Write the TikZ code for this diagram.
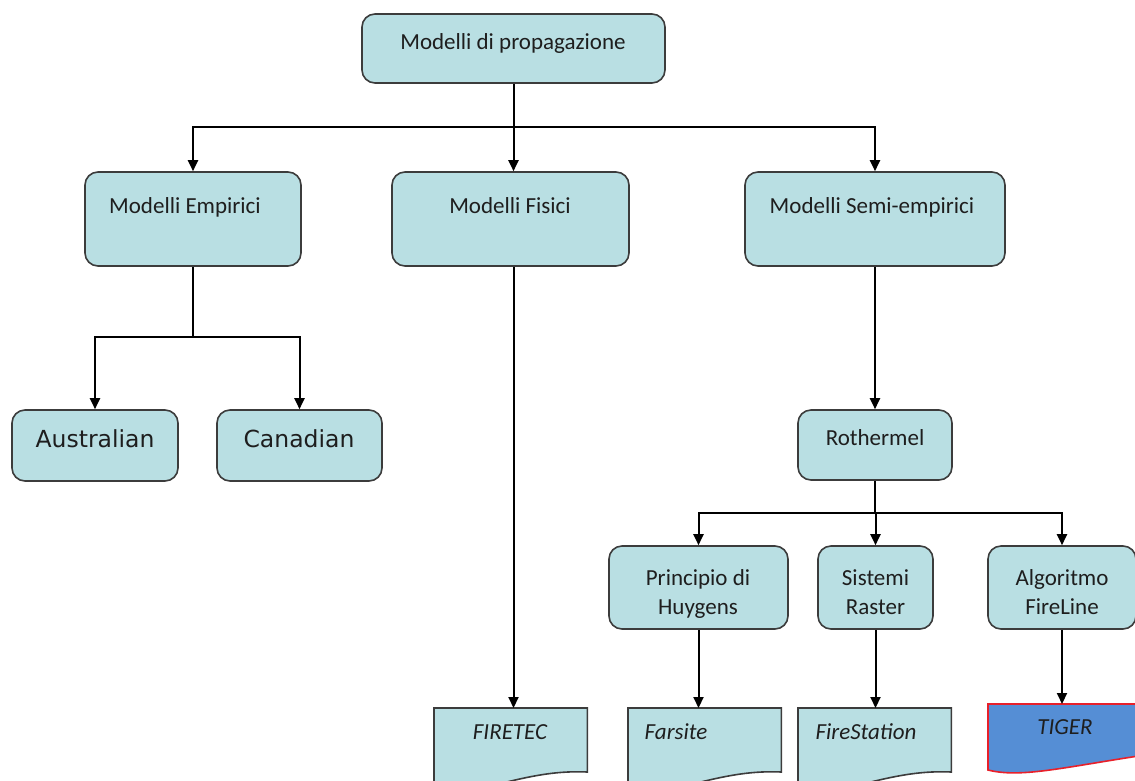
\documentclass[tikz,border=0pt]{standalone}
\usepackage{fontspec}
\setmainfont{Carlito}
\newfontfamily\dejavu{DejaVu Sans}
\usetikzlibrary{arrows.meta}
\definecolor{boxfill}{HTML}{B9DFE3}
\definecolor{boxline}{HTML}{3C3C3C}
\definecolor{txtc}{HTML}{1E1E1E}
\definecolor{tigerfill}{HTML}{558ED5}
\definecolor{tigerline}{HTML}{E8202A}
\newcommand\docpath[2]{%
  \draw[#2] (#1.north west) -- (#1.north east) -- ([yshift=-64pt]#1.north east)
    .. controls ([xshift=-46pt,yshift=-62pt]#1.north east) and ([xshift=76pt,yshift=-74pt]#1.north west)
    .. ([yshift=-92pt]#1.north west) -- cycle;}
\begin{document}
\begin{tikzpicture}[x=1pt,y=-1pt,
  rbox/.style={draw=boxline, line width=1.6pt, fill=boxfill, rounded corners=13pt, inner sep=0pt},
  txt/.style={inner sep=0pt, text=txtc, font=\fontsize{23}{29}\selectfont, text height=15pt, text depth=0pt},
  txtit/.style={txt, font=\fontsize{23}{29}\selectfont\itshape},
  txtdv/.style={txt, font=\fontsize{23.5}{29}\selectfont\dejavu},
  txttwo/.style={inner sep=0pt, text=txtc, font=\fontsize{23}{29}\selectfont, align=center},
  docbox/.style={inner sep=0pt, minimum width=153pt, minimum height=72pt, anchor=north west},
  docshape/.style={draw=boxline, line width=1.6pt, fill=boxfill},
  tigershape/.style={draw=tigerline, line width=1.6pt, fill=tigerfill},
  conn/.style={line width=2pt, black},
  arr/.style={conn, -{Triangle[width=10pt,length=11pt]}}
]
\useasboundingbox (0,0) rectangle (1135,780);
\clip (0,0) rectangle (1135,780);
\fill[white] (0,0) rectangle (1135,780);

% boxes
\node[rbox, minimum width=303pt, minimum height=69pt] (top) at (513.5,48.5) {};
\node[rbox, minimum width=216pt, minimum height=94pt] (emp) at (193,219) {};
\node[rbox, minimum width=237pt, minimum height=94pt] (fis) at (510.5,219) {};
\node[rbox, minimum width=260pt, minimum height=94pt] (semi) at (875,219) {};
\node[rbox, minimum width=166pt, minimum height=71pt] (aus) at (95,445.5) {};
\node[rbox, minimum width=165pt, minimum height=71pt] (can) at (299.5,445.5) {};
\node[rbox, minimum width=154pt, minimum height=70pt] (roth) at (875,445) {};
\node[rbox, minimum width=179pt, minimum height=83pt] (huy) at (698.5,587.5) {};
\node[rbox, minimum width=115pt, minimum height=83pt] (ras) at (875.5,587.5) {};
\node[rbox, minimum width=148pt, minimum height=83pt] (alg) at (1062,587.5) {};

% document shapes
\node[docbox] (firetec) at (434,708) {};
\node[docbox] (farsite) at (628,708) {};
\node[docbox] (firest) at (798,708) {};
\node[docbox, minimum width=150pt, minimum height=66pt] (tiger) at (988,704) {};
\docpath{firetec}{docshape}
\docpath{farsite}{docshape}
\docpath{firest}{docshape}
\draw[tigershape] (tiger.north west) -- (tiger.north east) -- ([yshift=-52pt]tiger.north east)
  .. controls ([xshift=-78pt,yshift=-64pt]tiger.north east) and ([xshift=32pt,yshift=-74pt]tiger.north west)
  .. ([yshift=-66pt]tiger.north west) -- cycle;

% texts
\node[txt] (topt) at (513,42) {Modelli di propagazione};
\node[txt] (empt) at (185,206) {Modelli Empirici};
\node[txt] (fist) at (510,206) {Modelli Fisici};
\node[txt] (semit) at (872,206) {Modelli Semi-empirici};
\node[txtdv] (aust) at (95,440) {Australian};
\node[txtdv] (cant) at (299,440) {Canadian};
\node[txt] (tht) at (875,438) {Rothermel};
\node[txttwo] (huyt) at (698,594) {Principio di\\Huygens};
\node[txttwo] (rast) at (875.5,592) {Sistemi\\Raster};
\node[txttwo] (algt) at (1062,592) {Algoritmo\\FireLine};
\node[txtit] (firetect) at (510,732) {FIRETEC};
\node[txtit] (farsitet) at (676,732) {Farsite};
\node[txtit] (firestt) at (866,732) {FireStation};
\node[txtit] (tigert) at (1065,727) {TIGER};

% connectors
\coordinate (j1) at (513.5,127);
\coordinate (j2) at (193,337);
\coordinate (j3) at (875,513);
\draw[conn] (top.south) -- (j1);
\draw[arr] (j1) -| (emp.north);
\draw[arr] (j1) -| (semi.north);
\draw[arr] (j1) -- (j1 |- fis.north);
\draw[conn] (emp.south) -- (j2);
\draw[arr] (j2) -| (aus.north);
\draw[arr] (j2) -| (can.north);
\draw[arr] (j1 |- fis.south) -- (j1 |- firetec.north);
\draw[arr] (semi.south) -- (roth.north);
\draw[conn] (roth.south) -- (j3);
\draw[arr] (j3) -| (huy.north);
\draw[arr] (j3) -| (ras.north);
\draw[arr] (j3) -| (alg.north);
\draw[arr] (huy.south) -- (huy.south |- farsite.north);
\draw[arr] (ras.south) -- (ras.south |- firest.north);
\draw[arr] (alg.south) -- (alg.south |- tiger.north);
\end{tikzpicture}
\end{document}
